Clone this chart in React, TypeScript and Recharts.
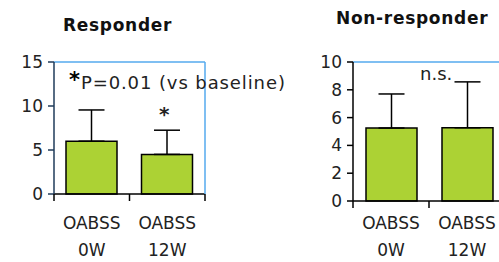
import React from 'react';
import { BarChart, Bar, XAxis, YAxis, ErrorBar, ReferenceLine } from 'recharts';

const categories = ['OABSS\n0W', 'OABSS\n12W'];
const responderMean = [6.0, 4.5];
const responderSd = [3.55, 2.75];
const nonResponderMean = [5.25, 5.27];
const nonResponderSd = [2.45, 3.3];
const responderTicks = [0, 5, 10, 15];
const nonResponderTicks = [0, 2, 4, 6, 8, 10];

const FONT = '"DejaVu Sans", sans-serif';
const GREEN = '#acd234';
const BLUE = '#55aaee';

const responderData = categories.map((name, i) => ({
  name,
  mean: responderMean[i],
  err: [0, responderSd[i]],
}));
const nonResponderData = categories.map((name, i) => ({
  name,
  mean: nonResponderMean[i],
  err: [0, nonResponderSd[i]],
}));

// category labels on two lines, tick marks at the band edges
function makeTick(band: number, count: number, first: number) {
  return (props: any) => {
    const { x, y, payload, index } = props;
    const lines = String(payload.value).split('\n');
    const left = x - band / 2;
    return (
      <g>
        <line x1={left} y1={y} x2={left} y2={y + 7} stroke="#000" strokeWidth={1.5} />
        {index === count - 1 && (
          <line x1={left + band} y1={y} x2={left + band} y2={y + 7} stroke="#000" strokeWidth={1.5} />
        )}
        <text textAnchor="middle" fill="#222" fontSize={17} fontFamily={FONT}>
          {lines.map((l, i) => (
            <tspan key={i} x={x} y={y + first + i * 26.5}>{l}</tspan>
          ))}
        </text>
      </g>
    );
  };
}

const abs = (left: number, top: number): React.CSSProperties => ({
  position: 'absolute',
  left,
  top,
  fontFamily: FONT,
  color: '#222',
  whiteSpace: 'nowrap',
  lineHeight: 1,
});

const yTick = { fill: '#222', fontSize: 17, fontFamily: FONT };

export default function App() {
  return (
    <div style={{ position: 'absolute', left: 0, top: 0, width: 499, height: 262, overflow: 'hidden', background: '#fff' }}>
      <div style={{ position: 'absolute', left: 0, top: 0 }}>
        <BarChart width={250} height={262} data={responderData} margin={{ top: 62, right: 44, bottom: 0, left: 0 }} barSize={51}>
          <XAxis dataKey="name" height={68} axisLine={{ stroke: '#000', strokeWidth: 1.5 }} tickLine={false} tickSize={0} tickMargin={0} interval={0} tick={makeTick(75.5, 2, 35)} />
          <YAxis width={54} domain={[0, 15]} ticks={responderTicks} axisLine={{ stroke: '#1f3b5a', strokeWidth: 1.5 }} tickLine={{ stroke: '#1f3b5a', strokeWidth: 1.5 }} tickSize={6} tickMargin={5} tick={yTick} />
          <YAxis yAxisId="r" orientation="right" width={1} domain={[0, 15]} tick={false} axisLine={{ stroke: BLUE, strokeWidth: 1.5 }} tickLine={false} />
          <ReferenceLine y={15} stroke={BLUE} strokeWidth={1.5} />
          <Bar dataKey="mean" fill={GREEN} stroke="#000" strokeWidth={1.5} isAnimationActive={false}>
            <ErrorBar dataKey="err" width={13} stroke="#000" strokeWidth={1.5} direction="y" />
          </Bar>
        </BarChart>
      </div>
      <div style={{ position: 'absolute', left: 250, top: 0 }}>
        <BarChart width={300} height={262} data={nonResponderData} margin={{ top: 62, right: 45, bottom: 0, left: 0 }} barSize={51}>
          <XAxis dataKey="name" height={61} axisLine={{ stroke: '#000', strokeWidth: 1.5 }} tickLine={false} tickSize={0} tickMargin={0} interval={0} tick={makeTick(76, 2, 28)} />
          <YAxis width={103} domain={[0, 10]} ticks={nonResponderTicks} axisLine={{ stroke: '#000', strokeWidth: 1.5 }} tickLine={{ stroke: '#000', strokeWidth: 1.5 }} tickSize={6} tickMargin={5} tick={yTick} />
          <ReferenceLine y={10} stroke={BLUE} strokeWidth={1.5} />
          <Bar dataKey="mean" fill={GREEN} stroke="#000" strokeWidth={1.5} isAnimationActive={false}>
            <ErrorBar dataKey="err" width={13} stroke="#000" strokeWidth={1.5} direction="y" />
          </Bar>
        </BarChart>
      </div>
      <div style={{ ...abs(63, 17), fontWeight: 'bold', fontSize: 17, letterSpacing: 0.7, color: '#111' }}>Responder</div>
      <div style={{ ...abs(336, 10), fontWeight: 'bold', fontSize: 17, letterSpacing: 0.7, color: '#111' }}>Non-responder</div>
      <div style={{ ...abs(69, 72), fontSize: 18, letterSpacing: 0.9 }}>
        <span style={{ fontSize: 21, fontWeight: 'bold', color: '#000', position: 'relative', top: -2 }}>*</span>P=0.01 (vs baseline)
      </div>
      <div style={{ ...abs(159, 104), fontSize: 20, fontWeight: 'bold' }}>*</div>
      <div style={{ ...abs(420, 65), fontSize: 18 }}>n.s.</div>
    </div>
  );
}
